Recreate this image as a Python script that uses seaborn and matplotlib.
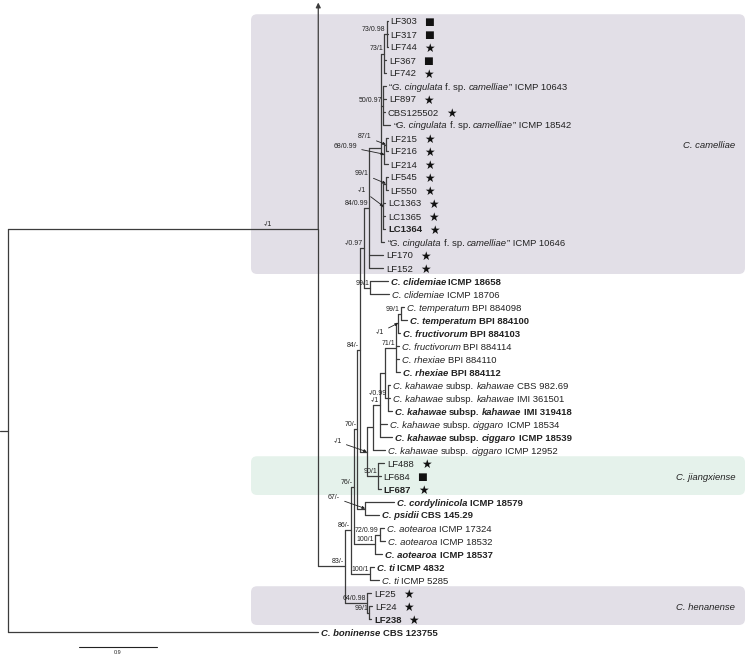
import matplotlib
matplotlib.use("Agg")
import matplotlib.pyplot as plt
from matplotlib.patches import FancyBboxPatch
import pandas as pd
import seaborn as sns

# tip labels, top to bottom (*...* = italic)
leaf_labels = [
    "LF303", "LF317", "LF744", "LF367", "LF742",
    "“*G. cingulata* f. sp. *camelliae*” ICMP 10643",
    "LF897", "CBS125502",
    "“*G. cingulata* f. sp. *camelliae*” ICMP 18542",
    "LF215", "LF216", "LF214", "LF545", "LF550",
    "LC1363", "LC1365", "LC1364",
    "“*G. cingulata* f. sp. *camelliae*” ICMP 10646",
    "LF170", "LF152",
    "*C. clidemiae* ICMP 18658", "*C. clidemiae* ICMP 18706",
    "*C. temperatum* BPI 884098", "*C. temperatum* BPI 884100",
    "*C. fructivorum* BPI 884103", "*C. fructivorum* BPI 884114",
    "*C. rhexiae* BPI 884110", "*C. rhexiae* BPI 884112",
    "*C. kahawae* subsp. *kahawae* CBS 982.69",
    "*C. kahawae* subsp. *kahawae* IMI 361501",
    "*C. kahawae* subsp. *kahawae* IMI 319418",
    "*C. kahawae* subsp. *ciggaro* ICMP 18534",
    "*C. kahawae* subsp. *ciggaro* ICMP 18539",
    "*C. kahawae* subsp. *ciggaro* ICMP 12952",
    "LF488", "LF684", "LF687",
    "*C. cordylinicola* ICMP 18579", "*C. psidii* CBS 145.29",
    "*C. aotearoa* ICMP 17324", "*C. aotearoa* ICMP 18532", "*C. aotearoa* ICMP 18537",
    "*C. ti* ICMP 4832", "*C. ti* ICMP 5285",
    "LF25", "LF24", "LF238",
    "*C. boninense* CBS 123755",
]
# distance from root to each tip
tip_depth = [
    4.38, 4.38, 4.38, 4.36, 4.36, 4.36, 4.36, 4.35, 4.41, 4.38,
    4.38, 4.38, 4.38, 4.38, 4.35, 4.35, 4.35, 4.34, 4.33, 4.33,
    4.38, 4.40, 4.57, 4.60, 4.52, 4.51, 4.51, 4.52, 4.41, 4.41,
    4.43, 4.37, 4.43, 4.35, 4.34, 4.30, 4.30, 4.45, 4.28, 4.34,
    4.35, 4.32, 4.22, 4.28, 4.19, 4.20, 4.19, 3.58,
]
bold_leaves = [16, 20, 23, 24, 27, 30, 32, 36, 37, 38, 41, 42, 46, 47]
leaf_marks = {0: "■", 1: "■", 2: "★", 3: "■", 4: "★", 6: "★", 7: "★",
              9: "★", 10: "★", 11: "★", 12: "★", 13: "★", 14: "★", 15: "★",
              16: "★", 18: "★", 19: "★", 34: "★", 35: "■", 36: "★",
              44: "★", 45: "★", 46: "★"}

# internal nodes: name -> (depth, support, children)
nodes = {
    "root": (0.0, "", ["ingroup", 47]),
    "ingroup": (3.58, "-/1", ["n83"]),
    "n83": (3.89, "83/-", ["n86", "h64"]),
    "n86": (3.96, "86/-", ["n76", "ti"]),
    "n76": (3.99, "76/-", ["n70", "a100"]),
    "n70": (4.03, "70/-", ["n84", "cp"]),
    "n84": (4.06, "84/-", ["x97", "kj"]),
    "x97": (4.11, "-/0.97", ["cam84", "clid"]),
    "cam84": (4.17, "84/0.99", ["cam", 18, 19]),
    "cam": (4.30, "", ["n73b", "n50", "n68", "nm1", 17]),
    "n73b": (4.34, "73/1", ["n73a", 3, 4]),
    "n73a": (4.37, "73/0.98", [0, 1, 2]),
    "n50": (4.33, "50/0.97", [5, 6, 7, 8]),
    "n68": (4.34, "68/0.99", ["n87", 11]),
    "n87": (4.36, "87/1", [9, 10]),
    "nm1": (4.33, "-/1", ["n99c", 14, 15, 16]),
    "n99c": (4.36, "99/1", [12, 13]),
    "clid": (4.18, "99/1", [20, 21]),
    "kj": (4.14, "-/1", ["kall", "jx"]),
    "kall": (4.21, "", ["kc", 33]),
    "kc": (4.29, "-/1", ["tk", 31, 32]),
    "tk": (4.35, "", ["t71", "k99"]),
    "t71": (4.48, "71/1", ["tf", 25, 26, 27]),
    "tf": (4.50, "-/1", ["t99", 24]),
    "t99": (4.53, "99/1", [22, 23]),
    "k99": (4.38, "-/0.99", [28, 29, 30]),
    "jx": (4.27, "90/1", [34, 35, 36]),
    "cp": (4.12, "67/-", [37, 38]),
    "a100": (4.23, "100/1", ["a72", 41]),
    "a72": (4.29, "72/0.99", [39, 40]),
    "ti": (4.18, "100/1", [42, 43]),
    "h64": (4.14, "64/0.98", [44, "h99"]),
    "h99": (4.17, "99/1", [45, 46]),
}
ingroup_stem_row = 16

clades = [("C. camelliae", 0, 19, "#e2dfe7"),
          ("C. jiangxiense", 34, 36, "#e5f2eb"),
          ("C. henanense", 44, 46, "#e2dfe7")]
scale_len = 0.9

# ---- layout (pixels) ----
PX = 78 / 0.9          # pixels per unit of branch length
ROW = 13.0             # pixels per tip
X0, Y0 = 8, 21         # root x, first tip y
W, H = 746, 657
arrow_labels = {"n87": (-14, -8), "n68": (-27, -8), "n99c": (-17, -10),
                "nm1": (-17, -16), "tf": (-14, 9), "kj": (-25, -10), "cp": (-25, -11)}
plain_offsets = {"ingroup": (-46, -1)}
line_col = "#3c3c3c"
txt_col = "#222222"

sns.set_theme(style="white")
plt.rcParams["font.family"] = ["Liberation Sans", "DejaVu Sans"]

fig = plt.figure(figsize=(W / 100, H / 100), dpi=100)
ax = fig.add_axes([0, 0, 1, 1])
ax.set_xlim(-X0 / PX, (W - X0) / PX)
ax.set_ylim((H - Y0) / ROW, -Y0 / ROW)
ax.axis("off")

# clade boxes
for name, r0, r1, col in clades:
    x_left = (251 - X0) / PX
    x_right = (745 - X0) / PX
    box = FancyBboxPatch((x_left, r0 - 0.52), x_right - x_left, r1 - r0 + 0.98,
                         boxstyle="round,pad=0,rounding_size=0.07",
                         mutation_aspect=PX / ROW, fc=col, ec="none", zorder=0)
    ax.add_patch(box)
    ax.text((735 - X0) / PX, (r0 + r1) / 2, name, style="italic", fontsize=6.8,
            ha="right", va="center_baseline", color=txt_col)

# tree segments
segs = []
node_xy = {}


def place(name):
    if isinstance(name, int):
        return tip_depth[name], name
    d, sup, kids = nodes[name]
    ys = []
    for k in kids:
        kd, ky = place(k)
        segs.append([(d, ky), (kd, ky)])
        ys.append(ky)
    y = (ys[0] + ys[-1]) / 2
    if name == "ingroup":
        y = ingroup_stem_row
    segs.append([(d, min(ys + [y])), (d, max(ys + [y]))])
    node_xy[name] = (d, y)
    return d, y


rd, ry = place("root")
segs.append([(-X0 / PX, ry), (rd, ry)])

rows = []
for i, s in enumerate(segs):
    for (x, y) in s:
        rows.append({"seg": i, "x": x, "y": y})
df = pd.DataFrame(rows)
sns.lineplot(data=df, x="x", y="y", units="seg", estimator=None, sort=False,
             color=line_col, linewidth=0.9, legend=False, ax=ax)

# arrow on the shortened ingroup branch
gd, gy = node_xy["ingroup"]
ax.annotate("", xy=(gd, -1.42), xytext=(gd, gy),
            arrowprops=dict(arrowstyle="-|>", color=line_col, lw=0.9,
                            mutation_scale=7, shrinkA=0, shrinkB=0))

# support values
for name, (d, sup, kids) in nodes.items():
    if not sup:
        continue
    x, y = node_xy[name]
    if name in arrow_labels:
        dx, dy = arrow_labels[name]
        ax.annotate(sup, xy=(x, y), xytext=(dx * 0.72, -dy * 0.72),
                    textcoords="offset points", ha="right", va="center",
                    fontsize=5, color=txt_col,
                    arrowprops=dict(arrowstyle="-|>", color=txt_col, lw=0.6,
                                    mutation_scale=4, shrinkA=1, shrinkB=0))
    else:
        dx, dy = plain_offsets.get(name, (-1, -1))
        ax.annotate(sup, xy=(x, y), xytext=(dx * 0.72, -dy * 0.72),
                    textcoords="offset points", ha="right", va="bottom",
                    fontsize=5, color=txt_col)

# tip labels, drawn part by part so italics can be mixed in
renderer = fig.canvas.get_renderer()
inv = ax.transData.inverted()
fs = 6.8
space = 0.278 * fs * 100 / 72
for i, lab in enumerate(leaf_labels):
    xp, yp = ax.transData.transform((tip_depth[i], i))
    xp += 3
    weight = "bold" if i in bold_leaves else "normal"
    for j, part in enumerate(lab.split("*")):
        if not part:
            continue
        if part.startswith(" "):
            xp += space
        core = part.strip()
        if core:
            t = ax.text(*inv.transform((xp, yp)), core, fontsize=fs,
                        style="italic" if j % 2 else "normal", weight=weight,
                        ha="left", va="center_baseline", color=txt_col)
            xp += t.get_window_extent(renderer).width
        if part.endswith(" "):
            xp += space
    if i in leaf_marks:
        mark = leaf_marks[i]
        ax.text(*inv.transform((xp + 7, yp)), mark,
                fontsize=8.5 if mark == "★" else 7.5,
                family=["DejaVu Sans"], ha="left", va="center_baseline",
                color="#111111")

# scale bar
sx = (79 - X0) / PX
sy = (647 - Y0) / ROW
ax.plot([sx, sx + scale_len], [sy, sy], color="#222222", lw=0.8)
ax.text(sx + scale_len / 2, sy + 0.45, f"{scale_len}", fontsize=4,
        ha="center", va="center", color=txt_col)

fig.savefig("out.png", dpi=100)
